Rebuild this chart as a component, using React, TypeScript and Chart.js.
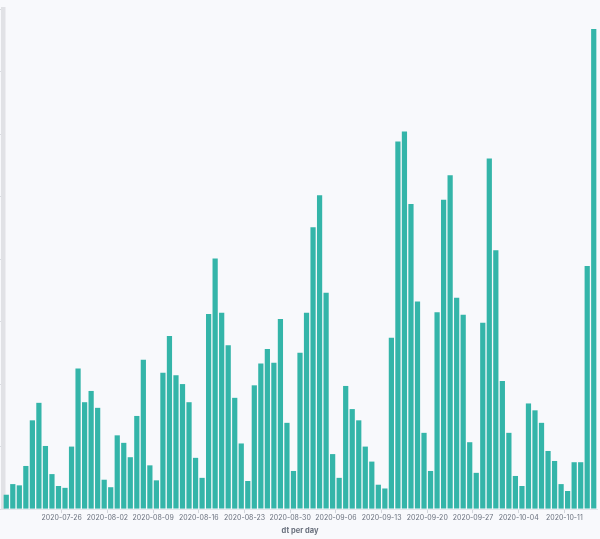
import React, { useEffect, useRef } from "react";
import { Chart, registerables } from "chart.js";

Chart.register(...registerables);

// Category: one bar per day, starting 2020-07-17 (91 days)
const START_DATE = "2020-07-17";
const DAY_COUNT = 91;
const DATES: string[] = Array.from({ length: DAY_COUNT }, (_, i) => {
  const d = new Date(START_DATE + "T00:00:00Z");
  d.setUTCDate(d.getUTCDate() + i);
  return d.toISOString().slice(0, 10);
});

// Count per day (y labels are not shown)
const COUNTS: number[] = [
  23, 40, 38, 69, 142, 170, 101, 56, 37, 34,
  100, 225, 171, 189, 162, 47, 35, 118, 106, 83,
  149, 239, 70, 46, 218, 277, 214, 200, 171, 82,
  50, 312, 401, 314, 262, 178, 105, 45, 198, 233,
  256, 234, 304, 138, 61, 250, 314, 451, 502, 346,
  88, 50, 197, 160, 142, 100, 76, 39, 33, 274,
  588, 604, 488, 332, 122, 61, 315, 495, 534, 338,
  311, 107, 58, 298, 561, 414, 205, 122, 53, 37,
  169, 158, 138, 93, 77, 40, 29, 75, 75, 389,
  768,
];

// Labelled ticks on the x axis
const TICK_LABELS: string[] = [
  "2020-07-26", "2020-08-02", "2020-08-09", "2020-08-16", "2020-08-23", "2020-08-30",
  "2020-09-06", "2020-09-13", "2020-09-20", "2020-09-27", "2020-10-04", "2020-10-11",
];

const Y_MAX = 800;
const Y_STEP = 100;
const X_TITLE = "dt per day";

const isTick = (i: number) => {
  const s = DATES[i];
  return !!s && TICK_LABELS.includes(s);
};

export default function App() {
  const ref = useRef<HTMLCanvasElement | null>(null);

  useEffect(() => {
    document.body.style.margin = "0";
    document.body.style.background = "#f8f9fc";
    if (!ref.current) return;
    const chart = new Chart(ref.current, {
      type: "bar",
      data: {
        labels: DATES,
        datasets: [
          {
            data: COUNTS,
            backgroundColor: "#34b5a9",
            borderWidth: 0,
            barPercentage: 0.8,
            categoryPercentage: 1,
          },
        ],
      },
      options: {
        animation: false,
        responsive: true,
        maintainAspectRatio: false,
        layout: { padding: { top: 9, right: 3, left: 0, bottom: 0 } },
        plugins: { legend: { display: false }, tooltip: { enabled: false } },
        scales: {
          x: {
            grid: {
              drawOnChartArea: false,
              tickLength: 4,
              color: (ctx: any) => (isTick(ctx.index) ? "#d3d6dc" : "rgba(0,0,0,0)"),
            },
            border: { display: true, color: "#e3e5ea", width: 1 },
            ticks: {
              autoSkip: false,
              maxRotation: 0,
              minRotation: 0,
              padding: 1,
              labelOffset: -3.26,
              color: "#69707d",
              font: { family: "Inter", size: 7 },
              callback: (_v: any, i: number) => (isTick(i) ? DATES[i] : ""),
            },
            title: {
              display: true,
              text: X_TITLE,
              color: "#69707d",
              font: { family: "Inter", size: 7.5, weight: "bold" },
              padding: { top: 3, bottom: 3.5 },
            },
          },
          y: {
            min: 0,
            max: Y_MAX,
            grid: {
              drawOnChartArea: false,
              tickLength: 3,
              color: "#d9dce1",
            },
            border: { display: true, color: "#e1e2e6", width: 4.5 },
            ticks: { display: false, stepSize: Y_STEP },
          },
        },
      },
    });
    return () => chart.destroy();
  }, []);

  return (
    <div style={{ position: "absolute", left: 0, top: 0, width: 600, height: 539, background: "#f8f9fc" }}>
      <canvas ref={ref} />
    </div>
  );
}
